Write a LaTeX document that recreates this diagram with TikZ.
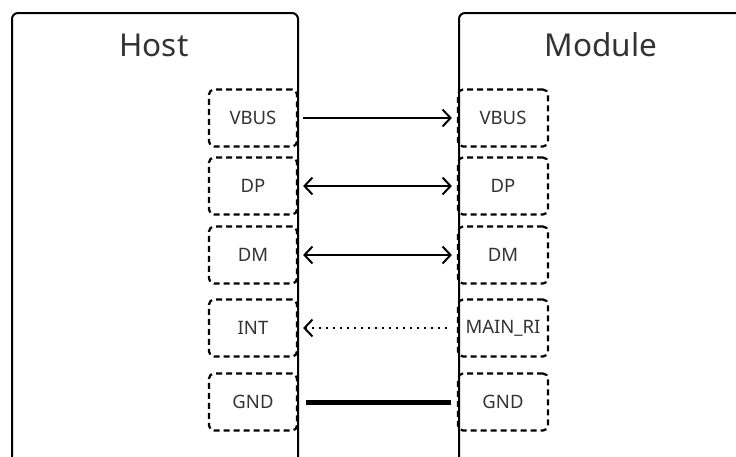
\documentclass[tikz,border=0pt]{standalone}
\usepackage{fontspec}
\setmainfont{Noto Sans}
\usetikzlibrary{arrows.meta,positioning}
\definecolor{inkgray}{HTML}{333333}

\begin{document}
\begin{tikzpicture}[x=1pt, y=-1pt,
    >={Straight Barb[length=8pt,width=17pt,line width=2pt]},
    unitbox/.style={
        rectangle,
        rounded corners=6pt,
        draw,
        line width=2pt,
        anchor=north west,
        inner sep=0pt
    },
    pinbox/.style={
        rectangle,
        rounded corners=5pt,
        draw,
        line width=2.2pt,
        dash pattern=on 6pt off 4pt,
        minimum width=88pt,
        minimum height=57pt,
        inner sep=0pt,
        text=inkgray,
        font=\fontsize{18.5}{21}\selectfont
    },
    title/.style={
        text=inkgray,
        font=\fontsize{31.5}{35}\selectfont
    },
    link/.style={
        line width=2pt,
        shorten <=5pt,
        shorten >=5pt
    }
]

    \useasboundingbox (0,0) rectangle (736,456);
    \clip (0,0) rectangle (736,456);



    \node (host) [unitbox, minimum width=286pt, minimum height=480pt] at (11,12) {};

    \node (module) [unitbox, minimum width=300pt, minimum height=480pt] at (458,12) {};

    \node (host_title) [title] at (154,45) {Host};

    \node (module_title) [title] at (601,45) {Module};



    \node (host_vbus) [pinbox] at (253,118) {VBUS};
    \node (host_dp)   [pinbox] at (253,186) {DP};
    \node (host_dm)   [pinbox] at (253,255) {DM};
    \node (host_int)  [pinbox] at (253,328) {INT};
    \node (host_gnd)  [pinbox] at (253,402) {GND};

    \node (module_vbus)    [pinbox, minimum width=90pt] at (503,118) {VBUS};
    \node (module_dp)      [pinbox, minimum width=90pt] at (503,186) {DP};
    \node (module_dm)      [pinbox, minimum width=90pt] at (503,255) {DM};
    \node (module_main_ri) [pinbox, minimum width=90pt] at (503,328) {MAIN\_RI};
    \node (module_gnd)     [pinbox, minimum width=90pt] at (503,402) {GND};



    \draw[link, ->] (host_vbus) to (module_vbus);
    \draw[link, <->] (host_dp) to (module_dp);
    \draw[link, <->] (host_dm) to (module_dm);
    \draw[link, <-, dash pattern=on 2pt off 5pt] (host_int) to (module_main_ri);
    \draw[link, line width=5pt, shorten <=8pt, shorten >=6pt] (host_gnd) to (module_gnd);


\end{tikzpicture}
\end{document}
